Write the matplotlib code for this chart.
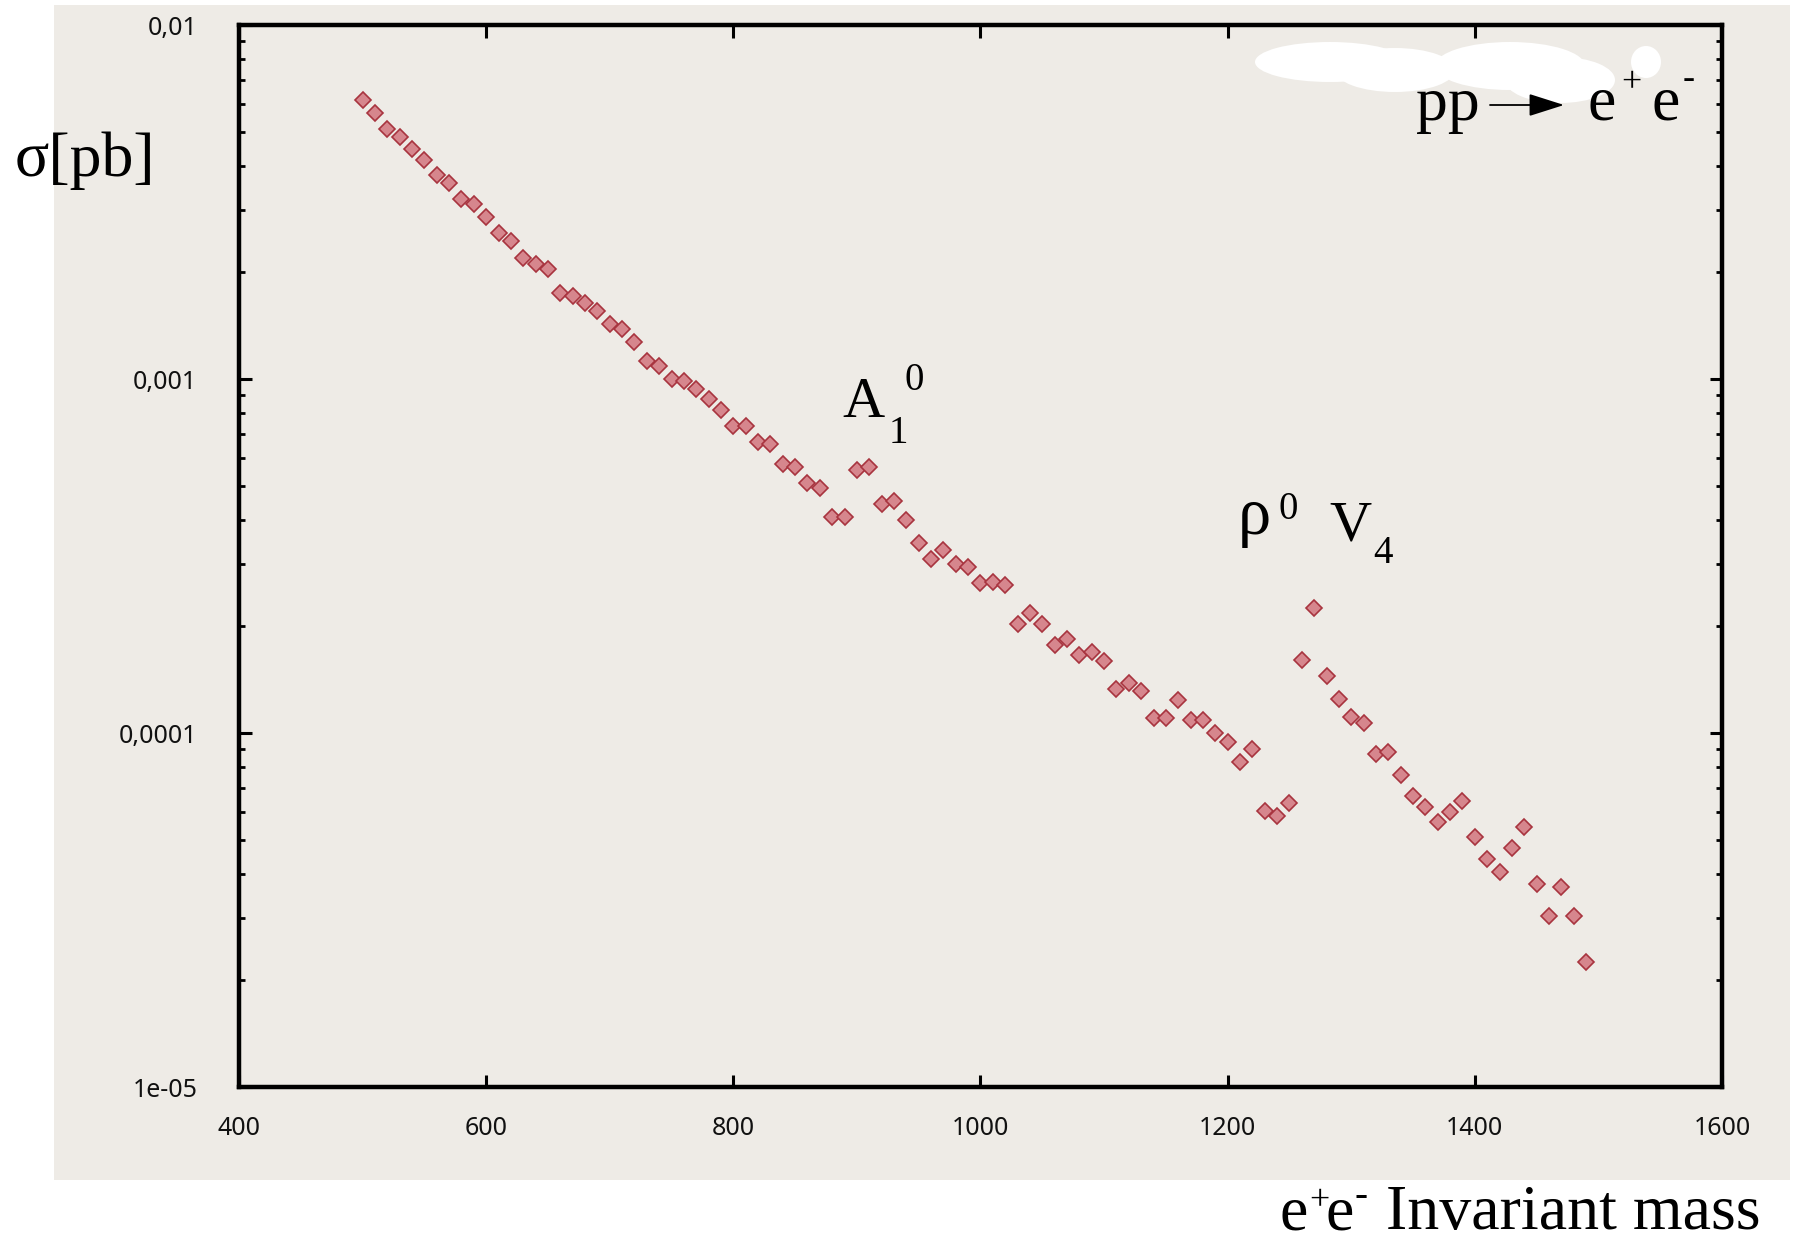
import matplotlib
matplotlib.use('Agg')
import matplotlib.pyplot as plt
from matplotlib.patches import Rectangle, Ellipse, FancyArrowPatch
from matplotlib.ticker import FixedLocator, FixedFormatter, LogLocator, NullFormatter

# e+e- invariant mass (GeV) and cross section sigma (pb)
mass = [500, 510, 520, 530, 540, 550, 560, 570, 580, 590,
        600, 610, 620, 630, 640, 650, 660, 670, 680, 690,
        700, 710, 720, 730, 740, 750, 760, 770, 780, 790,
        800, 810, 820, 830, 840, 850, 860, 870, 880, 890,
        900, 910, 920, 930, 940, 950, 960, 970, 980, 990,
        1000, 1010, 1020, 1030, 1040, 1050, 1060, 1070, 1080, 1090,
        1100, 1110, 1120, 1130, 1140, 1150, 1160, 1170, 1180, 1190,
        1200, 1210, 1220, 1230, 1240, 1250, 1260, 1270, 1280, 1290,
        1300, 1310, 1320, 1330, 1340, 1350, 1360, 1370, 1380, 1390,
        1400, 1410, 1420, 1430, 1440, 1450, 1460, 1470, 1480, 1490]

sigma = [6.14e-3, 5.64e-3, 5.10e-3, 4.84e-3, 4.45e-3, 4.16e-3, 3.76e-3, 3.57e-3, 3.23e-3, 3.12e-3,
         2.87e-3, 2.59e-3, 2.46e-3, 2.19e-3, 2.11e-3, 2.04e-3, 1.75e-3, 1.72e-3, 1.64e-3, 1.56e-3,
         1.43e-3, 1.38e-3, 1.27e-3, 1.127e-3, 1.089e-3, 1.00e-3, 9.85e-4, 9.35e-4, 8.77e-4, 8.17e-4,
         7.36e-4, 7.36e-4, 6.65e-4, 6.55e-4, 5.75e-4, 5.63e-4, 5.10e-4, 4.92e-4, 4.07e-4, 4.07e-4,
         5.53e-4, 5.63e-4, 4.43e-4, 4.52e-4, 4.00e-4, 3.45e-4, 3.10e-4, 3.28e-4, 3.00e-4, 2.95e-4,
         2.66e-4, 2.67e-4, 2.62e-4, 2.03e-4, 2.18e-4, 2.03e-4, 1.77e-4, 1.84e-4, 1.66e-4, 1.69e-4,
         1.60e-4, 1.33e-4, 1.38e-4, 1.31e-4, 1.10e-4, 1.10e-4, 1.24e-4, 1.09e-4, 1.09e-4, 9.98e-5,
         9.46e-5, 8.26e-5, 9.01e-5, 6.04e-5, 5.81e-5, 6.33e-5, 1.61e-4, 2.25e-4, 1.45e-4, 1.25e-4,
         1.11e-4, 1.07e-4, 8.73e-5, 8.85e-5, 7.60e-5, 6.64e-5, 6.19e-5, 5.61e-5, 6.00e-5, 6.44e-5,
         5.07e-5, 4.42e-5, 4.06e-5, 4.74e-5, 5.41e-5, 3.74e-5, 3.05e-5, 3.68e-5, 3.05e-5, 2.25e-5]

ytick_vals = [1e-5, 1e-4, 1e-3, 1e-2]
ytick_labels = ['1e-05', '0,0001', '0,001', '0,01']
xtick_vals = [400, 600, 800, 1000, 1200, 1400, 1600]

W, H = 1800, 1240
bg = '#eeebe6'
serif = 'Liberation Serif'

fig = plt.figure(figsize=(W / 100, H / 100), dpi=100)
fig.patch.set_facecolor('white')

# grey panel behind the plot
fig.patches.append(Rectangle((54 / W, 1 - 1180 / H), (1790 - 54) / W, (1180 - 5) / H,
                             transform=fig.transFigure, facecolor=bg, edgecolor='none', zorder=-5))

ax = fig.add_axes([239 / W, 1 - 1087 / H, (1722 - 239) / W, (1087 - 25) / H])
ax.set_facecolor(bg)
ax.set_zorder(1)

ax.plot(mass, sigma, linestyle='none', marker='D', ms=8.5,
        mfc='#d6868d', mec='#a8343f', mew=1.2)

ax.set_yscale('log')
ax.set_xlim(400, 1600)
ax.set_ylim(1e-5, 1e-2)

ax.yaxis.set_major_locator(FixedLocator(ytick_vals))
ax.yaxis.set_major_formatter(FixedFormatter(ytick_labels))
ax.yaxis.set_minor_locator(LogLocator(base=10, subs=[2, 3, 4, 5, 6, 7, 8, 9]))
ax.yaxis.set_minor_formatter(NullFormatter())
ax.xaxis.set_major_locator(FixedLocator(xtick_vals))
ax.set_xticklabels([str(v) for v in xtick_vals])

for s in ax.spines.values():
    s.set_linewidth(3.2)
    s.set_color('black')

ax.tick_params(axis='both', which='major', direction='in', length=9, width=2.2,
               top=True, right=True, labelsize=18, labelcolor='#111111')
ax.tick_params(axis='y', which='minor', direction='in', length=4, width=2,
               left=True, right=True)
ax.tick_params(axis='y', which='major', pad=30)
ax.tick_params(axis='x', which='major', pad=21)
for lbl in ax.get_xticklabels() + ax.get_yticklabels():
    lbl.set_family('Noto Sans')


def ftext(x, y, s, size, **kw):
    # place text in figure pixel coordinates (y measured from top)
    fig.text(x / W, 1 - y / H, s, fontsize=size, family=serif,
             ha='left', va='baseline', zorder=10, **kw)


# white smudge left at the top of the plot area
for cx, cy, w, h in [(1330, 62, 150, 40), (1395, 70, 120, 44), (1510, 66, 150, 48),
                     (1560, 80, 110, 46), (1646, 62, 30, 32)]:
    fig.patches.append(Ellipse((cx / W, 1 - cy / H), w / W, h / H, transform=fig.transFigure,
                               facecolor='white', edgecolor='none', zorder=5))

# y label
ftext(15, 176, 'σ[pb]', 46)

# process label, top right
ftext(1416, 120, 'pp', 46)
fig.add_artist(FancyArrowPatch(
    (1490 / W, 1 - 105 / H), (1564 / W, 1 - 105 / H), transform=fig.transFigure,
    arrowstyle='-|>,head_length=22,head_width=7', mutation_scale=1,
    color='black', lw=1.3, shrinkA=0, shrinkB=0, zorder=10))
ftext(1588, 120, 'e', 46)
ftext(1621, 92, '+', 26)
ftext(1651, 120, 'e', 46)
ftext(1683, 88, '-', 26)

# resonance labels
ftext(842, 417, 'A', 42)
ftext(889, 443, '1', 28)
ftext(904, 390, '0', 28)
ftext(1238, 534, 'ρ', 48)
ftext(1278, 519, '0', 28)
ftext(1329, 540, 'V', 42)
ftext(1373, 563, '4', 28)

# x label
ftext(1280, 1229, 'e', 46)
ftext(1309, 1210, '+', 26)
ftext(1326, 1229, 'e', 46)
ftext(1355, 1206, '-', 28)
ftext(1386, 1229, 'Invariant mass', 46)

fig.savefig('out.png', dpi=100)
